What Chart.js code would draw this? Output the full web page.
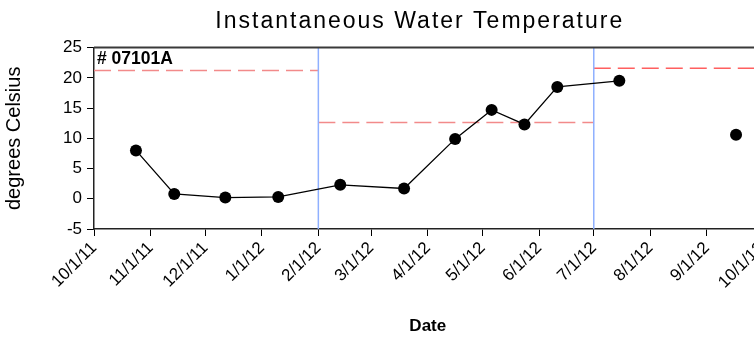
<!DOCTYPE html>
<html><head><meta charset="utf-8">
<script src="https://cdn.jsdelivr.net/npm/chart.js@4/dist/chart.umd.min.js"></script>
<style>
html,body{margin:0;padding:0;background:#fff;overflow:hidden;}
#wrap{width:754px;height:345px;overflow:hidden;position:relative;background:#fff;}
#wrap canvas{position:absolute;left:0;top:0;}
</style></head><body>
<div id="wrap"><canvas id="c" width="778" height="345" style="width:778px;height:345px"></canvas></div>
<script>
// ---- data ----
const sampleDates = ['2011-10-24','2011-11-14','2011-12-12','2012-01-10','2012-02-13','2012-03-19','2012-04-16','2012-05-06','2012-05-24','2012-06-11','2012-07-15'];
const waterTemp   = [8.0, 0.8, 0.2, 0.3, 2.3, 1.7, 9.9, 14.7, 12.3, 18.5, 19.5];
const isolatedDates = ['2012-09-17'];
const isolatedTemp  = [10.6];
const criterionStart = ['2011-10-01','2012-02-01','2012-07-01'];
const criterionEnd   = ['2012-02-01','2012-07-01','2012-10-31'];
const criterionValue = [21.2, 12.6, 21.6];
const seasonBreaks = ['2012-02-01','2012-07-01'];
const tickDates  = ['2011-10-01','2011-11-01','2011-12-01','2012-01-01','2012-02-01','2012-03-01','2012-04-01','2012-05-01','2012-06-01','2012-07-01','2012-08-01','2012-09-01','2012-10-01'];
const tickLabels = ['10/1/11','11/1/11','12/1/11','1/1/12','2/1/12','3/1/12','4/1/12','5/1/12','6/1/12','7/1/12','8/1/12','9/1/12','10/1/12'];
const yTicks = [-5, 0, 5, 10, 15, 20, 25];
const stationLabel = '# 07101A';
const chartTitle = 'Instantaneous Water Temperature';
const xTitle = 'Date';
const yTitle = 'degrees Celsius';

// ---- helpers ----
const ORIGIN = Date.UTC(2011, 9, 1);
function dayNum(s){ const p = s.split('-').map(Number); return (Date.UTC(p[0], p[1]-1, p[2]) - ORIGIN) / 864e5; }
const FONT = "'Liberation Sans', Arial, sans-serif";

const datasets = [];
datasets.push({
  label: 'Water temperature',
  data: sampleDates.map((d,i)=>({x: dayNum(d), y: waterTemp[i]})),
  borderColor: '#000', borderWidth: 1.3,
  pointRadius: 6, pointHoverRadius: 6, pointBackgroundColor: '#000', pointBorderWidth: 0,
  order: 0
});
datasets.push({
  label: 'Water temperature (isolated)',
  data: isolatedDates.map((d,i)=>({x: dayNum(d), y: isolatedTemp[i]})),
  showLine: false,
  pointRadius: 6, pointHoverRadius: 6, pointBackgroundColor: '#000', pointBorderWidth: 0,
  order: 0
});
const critColors = ['#f28a8a', '#f28a8a', '#ff5f5f'];
criterionValue.forEach((v,i)=>{
  datasets.push({
    label: 'Criterion ' + (i+1),
    data: [{x: dayNum(criterionStart[i]), y: v}, {x: dayNum(criterionEnd[i]), y: v}],
    borderColor: critColors[i], borderWidth: 1.5, borderDash: [17, 7],
    pointRadius: 0, order: 2
  });
});
seasonBreaks.forEach((d)=>{
  datasets.push({
    label: 'Season break',
    data: [{x: dayNum(d), y: yTicks[0]}, {x: dayNum(d), y: yTicks[yTicks.length-1]}],
    borderColor: '#8fb0ff', borderWidth: 1.5,
    pointRadius: 0, order: 1
  });
});

const decorPlugin = {
  id: 'decor',
  afterInit(chart){
    const tb = chart.titleBlock;
    if (tb && tb.draw) {
      const orig = tb.draw.bind(tb);
      tb.draw = function(){
        const ctx = chart.ctx;
        ctx.save();
        try { ctx.letterSpacing = '2px'; } catch(e) {}
        ctx.translate(-8, 0);
        orig();
        ctx.restore();
        try { ctx.letterSpacing = '0px'; } catch(e) {}
      };
    }
  },
  afterDraw(chart){
    const {ctx, chartArea} = chart;
    ctx.save();
    ctx.strokeStyle = '#3a3a3a';
    ctx.lineWidth = 2;
    ctx.beginPath();
    ctx.moveTo(chartArea.left, chartArea.top);
    ctx.lineTo(chartArea.right + 20, chartArea.top);
    ctx.stroke();
    ctx.fillStyle = '#000';
    ctx.font = "bold 17.5px " + FONT;
    ctx.textBaseline = 'top';
    ctx.textAlign = 'left';
    ctx.fillText(stationLabel, chartArea.left + 3, chartArea.top + 3);
    ctx.restore();
  }
};

new Chart(document.getElementById('c'), {
  type: 'line',
  data: { datasets },
  plugins: [decorPlugin],
  options: {
    responsive: false,
    animation: false,
    events: [],
    layout: { padding: 0 },
    plugins: {
      legend: { display: false },
      tooltip: { enabled: false },
      title: {
        display: true, text: chartTitle, color: '#000', fullSize: false,
        font: { family: FONT, size: 23, weight: 'normal', lineHeight: 1.2 },
        padding: { top: 8, bottom: 12 }
      }
    },
    scales: {
      x: {
        type: 'linear',
        min: dayNum(tickDates[0]), max: dayNum(tickDates[tickDates.length-1]),
        afterBuildTicks: (s) => { s.ticks = tickDates.map(d => ({ value: dayNum(d) })); },
        afterFit: (s) => { s.height = 116; },
        ticks: {
          autoSkip: false, minRotation: 45, maxRotation: 45, padding: 2,
          color: '#000', font: { family: FONT, size: 17 },
          callback: (v, i) => tickLabels[i]
        },
        grid: { drawOnChartArea: false, drawTicks: true, tickLength: 7, tickColor: '#000', tickWidth: 1 },
        border: { color: '#222', width: 1.5 },
        title: { display: true, text: xTitle, color: '#000', font: { family: FONT, size: 17, weight: 'bold' }, padding: { top: 0, bottom: 8 } }
      },
      y: {
        min: yTicks[0], max: yTicks[yTicks.length-1],
        afterBuildTicks: (s) => { s.ticks = yTicks.map(v => ({ value: v })); },
        afterFit: (s) => { s.width = 94; },
        ticks: { color: '#000', font: { family: FONT, size: 17 }, padding: 5 },
        grid: { drawOnChartArea: false, drawTicks: true, tickLength: 7, tickColor: '#000', tickWidth: 1 },
        border: { color: '#222', width: 1.5 },
        title: { display: true, text: yTitle, color: '#000', font: { family: FONT, size: 20 }, padding: { top: 2, bottom: 0 } }
      }
    }
  }
});
</script>
</body></html>
